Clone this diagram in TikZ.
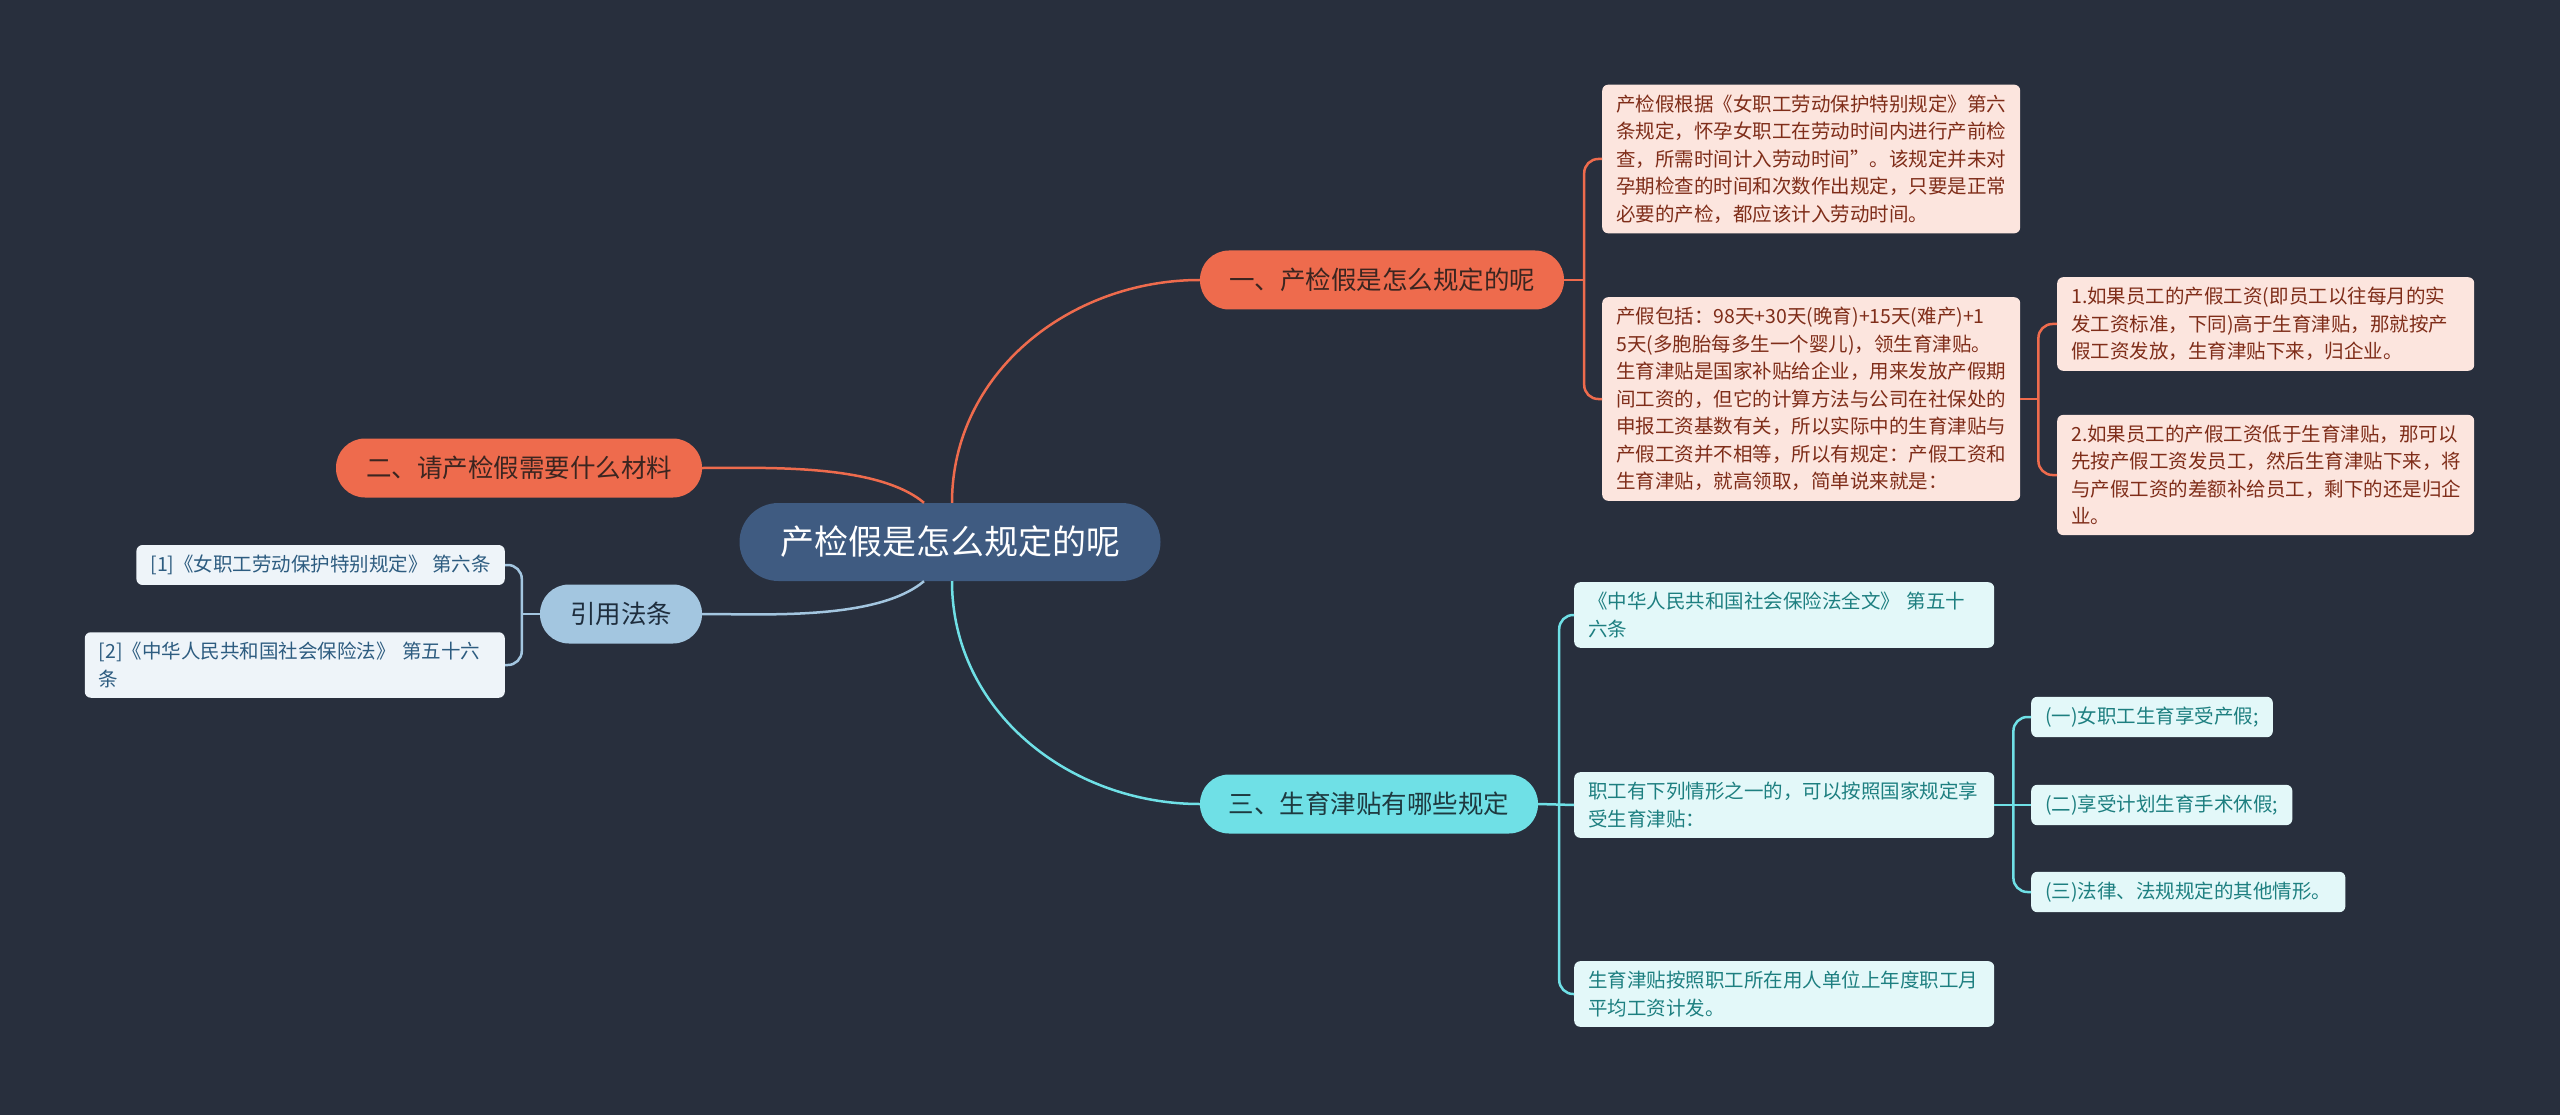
\documentclass[tikz,border=0pt]{standalone}
\usepackage{fontspec}
\setmainfont{Noto Sans CJK SC}

\definecolor{bgcol}{HTML}{282F3D}
\definecolor{rootfill}{HTML}{3F5B81}
\definecolor{orangecol}{HTML}{EE6B4D}
\definecolor{orangetext}{HTML}{3B2520}
\definecolor{pinkleaf}{HTML}{FCE5DE}
\definecolor{pinktext}{HTML}{7F2D19}
\definecolor{bluecol}{HTML}{A3C6E0}
\definecolor{bluetext}{HTML}{1E2D3D}
\definecolor{blueleaf}{HTML}{EEF4F9}
\definecolor{blueleaftext}{HTML}{2D5C80}
\definecolor{cyancol}{HTML}{6FE0E6}
\definecolor{cyantext}{HTML}{1E3A40}
\definecolor{cyanleaf}{HTML}{E3F8F9}
\definecolor{cyanleaftext}{HTML}{1D7F80}

\tikzset{
  rootbox/.style={rounded corners=39pt, fill=rootfill, text=white, inner sep=0pt,
    minimum width=421pt, minimum height=78pt, font=\fontsize{34}{40}\selectfont},
  pill/.style={rounded corners=29pt, inner sep=0pt, minimum height=59pt,
    font=\fontsize{25.5}{30}\selectfont},
  leaf/.style={rounded corners=6pt, align=left, inner xsep=14pt, inner ysep=10pt,
    font=\fontsize{19.5}{27.5}\selectfont},
  pinkbox/.style={leaf, fill=pinkleaf, text=pinktext},
  bluebox/.style={leaf, fill=blueleaf, text=blueleaftext},
  cyanbox/.style={leaf, fill=cyanleaf, text=cyanleaftext},
  lo/.style={draw=orangecol, line width=2.5pt},
  lb/.style={draw=bluecol, line width=2.5pt},
  lc/.style={draw=cyancol, line width=2.5pt}
}

\begin{document}
\begin{tikzpicture}[x=1pt, y=1pt]
  % Canvas
  \useasboundingbox (0,0) rectangle (2560,-1115);
  \fill[bgcol] (0,0) rectangle (2560,-1115);

  % Root and branches
  \node[rootbox] (root) at (950,-542) {产检假是怎么规定的呢};
  \node[pill, fill=orangecol, text=orangetext, minimum width=364pt] (b1) at (1382,-280) {一、产检假是怎么规定的呢};
  \node[pill, fill=orangecol, text=orangetext, minimum width=366pt] (b2) at (519,-468) {二、请产检假需要什么材料};
  \node[pill, fill=bluecol, text=bluetext, minimum width=162pt] (b4) at (621,-614) {引用法条};
  \node[pill, fill=cyancol, text=cyantext, minimum width=338pt] (b3) at (1369,-804) {三、生育津贴有哪些规定};

  % Branch one leaves
  \node[pinkbox, text width=390pt, anchor=west] (l1a) at (1602,-159) {产检假根据《女职工劳动保护特别规定》第六\\条规定，怀孕女职工在劳动时间内进行产前检\\查，所需时间计入劳动时间”。该规定并未对\\孕期检查的时间和次数作出规定，只要是正常\\必要的产检，都应该计入劳动时间。};
  \node[pinkbox, text width=390pt, anchor=west] (l1b) at (1602,-399) {产假包括：98天+30天(晚育)+15天(难产)+1\\5天(多胞胎每多生一个婴儿)，领生育津贴。\\生育津贴是国家补贴给企业，用来发放产假期\\间工资的，但它的计算方法与公司在社保处的\\申报工资基数有关，所以实际中的生育津贴与\\产假工资并不相等，所以有规定：产假工资和\\生育津贴，就高领取，简单说来就是：};
  \node[pinkbox, text width=389pt, anchor=west] (c1) at (2057,-324) {1.如果员工的产假工资(即员工以往每月的实\\发工资标准，下同)高于生育津贴，那就按产\\假工资发放，生育津贴下来，归企业。};
  \node[pinkbox, text width=389pt, anchor=west] (c2) at (2057,-475) {2.如果员工的产假工资低于生育津贴，那可以\\先按产假工资发员工，然后生育津贴下来，将\\与产假工资的差额补给员工，剩下的还是归企\\业。};

  % Cited laws
  \node[bluebox, anchor=east] (r1) at (505,-565) {[1]《女职工劳动保护特别规定》 第六条};
  \node[bluebox, text width=392pt, anchor=east] (r2) at (505,-665) {[2]《中华人民共和国社会保险法》 第五十六\\条};

  % Branch three leaves
  \node[cyanbox, text width=392pt, anchor=west] (t1) at (1574,-615) {《中华人民共和国社会保险法全文》 第五十\\六条};
  \node[cyanbox, text width=392pt, anchor=west] (t2) at (1574,-805) {职工有下列情形之一的，可以按照国家规定享\\受生育津贴：};
  \node[cyanbox, text width=392pt, anchor=west] (t3) at (1574,-994) {生育津贴按照职工所在用人单位上年度职工月\\平均工资计发。};
  \node[cyanbox, anchor=west] (s1) at (2031,-717) {(一)女职工生育享受产假;};
  \node[cyanbox, anchor=west] (s2) at (2031,-805) {(二)享受计划生育手术休假;};
  \node[cyanbox, anchor=west] (s3) at (2031,-892) {(三)法律、法规规定的其他情形。};

  % Root connectors
  \draw[lo] ([xshift=2pt]root.north) to[out=90, in=180] (b1.west);
  \draw[lo] ([xshift=-26pt]root.north) to[out=140, in=0, looseness=0.7] (b2.east);
  \draw[lb] ([xshift=-26pt]root.south) to[out=-140, in=0, looseness=0.7] (b4.east);
  \draw[lc] ([xshift=2pt]root.south) to[out=-90, in=180] (b3.west);

  % Brackets
  \path (b1.east) -- ++(20,0) coordinate (j1);
  \draw[lo] (b1.east) -- (j1);
  \draw[lo, rounded corners=14pt] (l1a.west) -| (j1) |- (l1b.west);

  \path (l1b.east) -- ++(18,0) coordinate (j2);
  \draw[lo] (l1b.east) -- (j2);
  \draw[lo, rounded corners=14pt] (c1.west) -| (j2) |- (c2.west);

  \path (b4.west) -- ++(-18,0) coordinate (j5);
  \draw[lb] (b4.west) -- (j5);
  \draw[lb, rounded corners=14pt] (r1.east) -| (j5) |- (r2.east);

  \path (b3.east) -- ++(21,0) coordinate (j3);
  \draw[lc] (b3.east) -- (t2.west);
  \draw[lc, rounded corners=14pt] (t1.west) -| (j3) |- (t3.west);

  \path (t2.east) -- ++(19,0) coordinate (j4);
  \draw[lc] (t2.east) -- (s2.west);
  \draw[lc, rounded corners=14pt] (s1.west) -| (j4) |- (s3.west);
\end{tikzpicture}
\end{document}
